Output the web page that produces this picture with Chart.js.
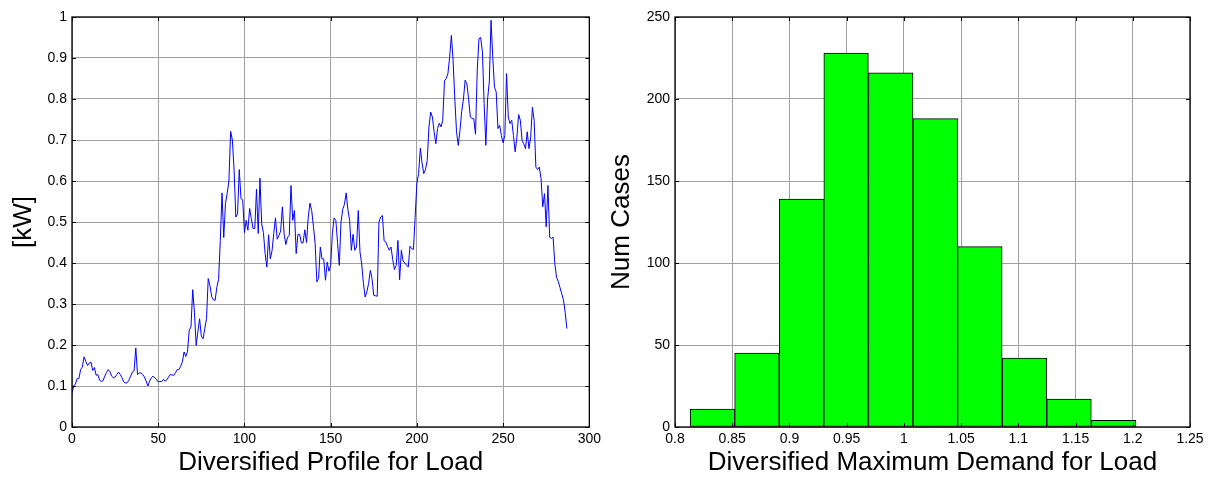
<html>
<head>
    <meta charset="utf-8">
    <script src="https://cdn.jsdelivr.net/npm/chart.js"></script>
    <style>
        body { margin: 0; background: #fff; }
        canvas { position: absolute; top: 0; }
        #perfil { left: 0; }
        #histograma { left: 605px; }
    </style>
</head>
<body>
    <canvas id="perfil" width="605" height="478"></canvas>
    <canvas id="histograma" width="614" height="478"></canvas>
    <script>
        // perfil diversificado (kW), um valor por amostra 0..287
        var loadProfile = [
            0.083,0.100,0.105,0.118,0.118,0.140,0.146,0.171,0.160,0.150,
            0.156,0.158,0.138,0.145,0.126,0.128,0.114,0.111,0.113,0.124,
            0.133,0.140,0.135,0.124,0.120,0.122,0.128,0.134,0.128,0.120,
            0.110,0.107,0.108,0.114,0.124,0.134,0.137,0.193,0.128,0.132,
            0.132,0.128,0.122,0.112,0.100,0.112,0.120,0.124,0.120,0.116,
            0.110,0.111,0.111,0.116,0.112,0.115,0.122,0.128,0.127,0.126,
            0.132,0.140,0.140,0.148,0.159,0.183,0.172,0.185,0.236,0.244,
            0.335,0.280,0.199,0.232,0.264,0.222,0.215,0.240,0.264,0.362,
            0.345,0.318,0.310,0.309,0.341,0.360,0.455,0.571,0.462,0.545,
            0.570,0.600,0.721,0.700,0.626,0.512,0.520,0.628,0.557,0.554,
            0.474,0.504,0.480,0.533,0.508,0.484,0.484,0.580,0.472,0.607,
            0.496,0.474,0.423,0.390,0.469,0.410,0.430,0.472,0.510,0.458,
            0.467,0.478,0.537,0.472,0.445,0.463,0.467,0.589,0.504,0.528,
            0.423,0.470,0.470,0.449,0.449,0.481,0.450,0.512,0.546,0.528,
            0.490,0.447,0.354,0.362,0.439,0.410,0.410,0.358,0.402,0.380,
            0.394,0.472,0.510,0.504,0.450,0.394,0.500,0.531,0.543,0.571,
            0.530,0.504,0.431,0.470,0.431,0.439,0.528,0.427,0.398,0.350,
            0.317,0.330,0.350,0.382,0.362,0.321,0.320,0.319,0.500,0.512,
            0.516,0.454,0.451,0.440,0.431,0.439,0.408,0.384,0.394,0.455,
            0.359,0.431,0.405,0.400,0.395,0.390,0.441,0.435,0.433,0.512,
            0.595,0.618,0.680,0.644,0.618,0.628,0.650,0.732,0.768,0.756,
            0.720,0.691,0.728,0.741,0.732,0.748,0.844,0.850,0.862,0.902,
            0.955,0.894,0.800,0.720,0.687,0.724,0.770,0.800,0.846,0.837,
            0.800,0.756,0.752,0.752,0.714,0.870,0.947,0.950,0.915,0.789,
            0.687,0.800,0.842,0.992,0.902,0.829,0.817,0.728,0.736,0.711,
            0.693,0.711,0.862,0.756,0.740,0.748,0.711,0.671,0.707,0.762,
            0.748,0.699,0.691,0.679,0.720,0.679,0.707,0.780,0.748,0.634,
            0.628,0.634,0.606,0.537,0.569,0.488,0.589,0.463,0.460,0.463,
            0.398,0.365,0.355,0.340,0.325,0.310,0.280,0.240
        ];

        // histograma: centro de cada classe e numero de casos
        var binCenters = [0.8327, 0.8716, 0.9106, 0.9495, 0.9885, 1.0275, 1.0664, 1.1054, 1.1443, 1.1833];
        var numCases = [11, 45, 139, 228, 216, 188, 110, 42, 17, 4];

        // marcas dos eixos
        var profileXTicks = [0, 50, 100, 150, 200, 250, 300];
        var profileYTicks = [0, 0.1, 0.2, 0.3, 0.4, 0.5, 0.6, 0.7, 0.8, 0.9, 1];
        var demandXTicks = [0.8, 0.85, 0.9, 0.95, 1, 1.05, 1.1, 1.15, 1.2, 1.25];
        var casesYTicks = [0, 50, 100, 150, 200, 250];

        var fonte = 'Liberation Sans, Arial, sans-serif';
        Chart.defaults.font.family = fonte;
        Chart.defaults.color = '#000';

        // caixa preta e marcas para dentro, estilo matlab
        var moldura = {
            id: 'moldura',
            afterDraw: function (chart) {
                var ctx = chart.ctx, a = chart.chartArea;
                var sx = chart.scales.x, sy = chart.scales.y;
                ctx.save();
                ctx.strokeStyle = '#000';
                ctx.lineWidth = 1;
                ctx.beginPath();
                sx.ticks.forEach(function (t) {
                    var p = Math.round(sx.getPixelForValue(t.value)) + 0.5;
                    ctx.moveTo(p, a.bottom); ctx.lineTo(p, a.bottom - 4);
                    ctx.moveTo(p, a.top); ctx.lineTo(p, a.top + 4);
                });
                sy.ticks.forEach(function (t) {
                    var p = Math.round(sy.getPixelForValue(t.value)) + 0.5;
                    ctx.moveTo(a.left, p); ctx.lineTo(a.left + 4, p);
                    ctx.moveTo(a.right, p); ctx.lineTo(a.right - 4, p);
                });
                ctx.stroke();
                ctx.lineWidth = 1.3;
                ctx.strokeRect(a.left, a.top, a.right - a.left, a.bottom - a.top);
                ctx.restore();
            }
        };

        function fmt(v) { return String(+(+v).toFixed(2)); }

        function eixoX(min, max, lista, titulo) {
            return {
                type: 'linear', min: min, max: max, offset: false,
                afterBuildTicks: function (s) { s.ticks = lista.map(function (v) { return { value: v }; }); },
                afterFit: function (s) { s.height = 51; },
                grid: { color: '#a0a0a0', drawTicks: false, offset: false },
                border: { display: false },
                ticks: { autoSkip: false, maxRotation: 0, padding: 4, font: { size: 14 }, callback: fmt },
                title: { display: true, text: titulo, font: { size: 26 }, padding: { top: 0, bottom: 0 } }
            };
        }

        function eixoY(min, max, lista, titulo, largura, pad) {
            return {
                min: min, max: max,
                afterBuildTicks: function (s) { s.ticks = lista.map(function (v) { return { value: v }; }); },
                afterFit: function (s) { s.width = largura; },
                grid: { color: '#a0a0a0', drawTicks: false },
                border: { display: false },
                ticks: { autoSkip: false, padding: 5, font: { size: 14 }, callback: fmt },
                title: { display: true, text: titulo, font: { size: 26 }, padding: { top: pad, bottom: 0 } }
            };
        }

        new Chart(document.getElementById('perfil'), {
            type: 'line',
            data: {
                datasets: [{
                    data: loadProfile.map(function (v, i) { return { x: i, y: v }; }),
                    borderColor: '#0000ff',
                    borderWidth: 1,
                    pointRadius: 0,
                    tension: 0
                }]
            },
            options: {
                responsive: false,
                animation: false,
                layout: { padding: { left: 0, right: 13, top: 17, bottom: 0 } },
                plugins: { legend: { display: false }, tooltip: { enabled: false } },
                scales: {
                    x: eixoX(0, 300, profileXTicks, 'Diversified Profile for Load'),
                    y: eixoY(0, 1, profileYTicks, '[kW]', 72, 8)
                }
            },
            plugins: [moldura]
        });

        new Chart(document.getElementById('histograma'), {
            type: 'bar',
            data: {
                datasets: [{
                    data: binCenters.map(function (c, i) { return { x: c, y: numCases[i] }; }),
                    backgroundColor: '#00ff00',
                    borderColor: '#000',
                    borderWidth: 1,
                    borderSkipped: false,
                    barPercentage: 1,
                    categoryPercentage: 1
                }]
            },
            options: {
                responsive: false,
                animation: false,
                layout: { padding: { left: 0, right: 29, top: 17, bottom: 0 } },
                plugins: { legend: { display: false }, tooltip: { enabled: false } },
                scales: {
                    x: eixoX(0.8, 1.25, demandXTicks, 'Diversified Maximum Demand for Load'),
                    y: eixoY(0, 250, casesYTicks, 'Num Cases', 70, 1)
                }
            },
            plugins: [moldura]
        });
    </script>
</body>
</html>
